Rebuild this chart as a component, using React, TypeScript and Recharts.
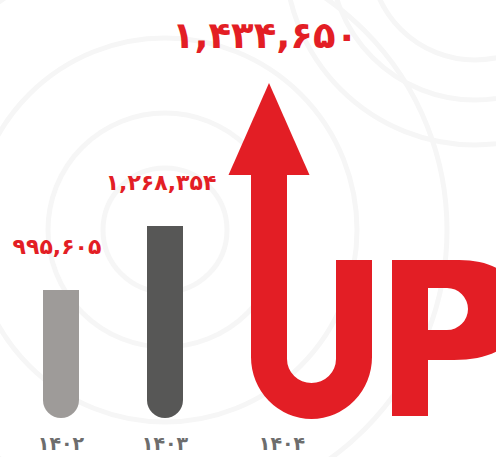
import React from 'react';
import { BarChart, Bar, XAxis, YAxis, LabelList, Cell } from 'recharts';

const years = ['۱۴۰۲', '۱۴۰۳', '۱۴۰۴'];
const values = [995605, 1268354, 1434650];
const valueLabels = ['۹۹۵,۶۰۵', '۱,۲۶۸,۳۵۴', '۱,۴۳۴,۶۵۰'];
const barColors = ['#9e9b99', '#575756', '#e31e25'];

const data = years.map((y, i) => ({ year: y, value: values[i], label: valueLabels[i] }));

const RED = '#e31e25';
const FONT = '"DejaVu Sans", sans-serif';

// rounded-bottom tube for the gray bars, U-arrow + P for the last one
const BarShape = (props: any) => {
  const { x, y, width, height, fill, index } = props;
  const base = y + height;
  if (index !== 2) {
    const r = width / 2;
    return (
      <path
        d={`M${x},${y} H${x + width} V${base - r} A${r} ${r} 0 0 1 ${x},${base - r} Z`}
        fill={fill}
      />
    );
  }
  const bx = x;
  const s = width / 36;
  const cx = bx + 18 * s;
  const headBase = y - 12 * s;
  const u = `M${bx},${headBase} H${bx + 36 * s} V${base - 59 * s}
    A${24.5 * s} ${24 * s} 0 0 0 ${bx + 85 * s},${base - 59 * s}
    V${base - 158 * s} H${bx + 121 * s} V${base - 61 * s}
    A${60.5 * s} ${62 * s} 0 0 1 ${bx},${base - 61 * s} Z`;
  const head = `M${cx - 40.5 * s},${headBase} L${cx},${y - 104 * s} L${cx + 40.5 * s},${headBase} Z`;
  const p = `M${bx + 141 * s},${base - 158 * s} H${bx + 208 * s}
    C${bx + 248 * s},${base - 158 * s} ${bx + 270 * s},${base - 138 * s} ${bx + 270 * s},${base - 108 * s}
    C${bx + 270 * s},${base - 75 * s} ${bx + 245 * s},${base - 58 * s} ${bx + 203 * s},${base - 58 * s}
    H${bx + 177 * s} V${base - 2 * s} H${bx + 141 * s} Z
    M${bx + 177 * s},${base - 130 * s} H${bx + 196 * s}
    A${21 * s} ${21 * s} 0 0 1 ${bx + 196 * s},${base - 88 * s} H${bx + 177 * s} Z`;
  return (
    <g fill={fill}>
      <path d={u} />
      <path d={head} />
      <path d={p} fillRule="evenodd" />
    </g>
  );
};

const ValueLabel = (props: any) => {
  const { x, y, width, index, value } = props;
  const big = index === 2;
  return (
    <text
      x={x + width / 2 - 4}
      y={big ? y - 139 : y - 36}
      textAnchor="middle"
      fill={RED}
      fontFamily={FONT}
      fontWeight="bold"
      fontSize={big ? 37 : 22}
      letterSpacing={big ? -2.5 : -1.5}
    >
      {value}
    </text>
  );
};

const YearTick = (props: any) => {
  const { x, y, payload, index } = props;
  return (
    <text
      x={x + (index === 2 ? 13 : 0)}
      y={y + 24}
      textAnchor="middle"
      fill="#6d6d6d"
      fontFamily={FONT}
      fontWeight="bold"
      fontSize={19}
    >
      {payload.value}
    </text>
  );
};

const Backdrop = () => (
  <svg width={496} height={457} style={{ position: 'absolute', left: 0, top: 0 }}>
    <g fill="none" stroke="#f6f6f6" strokeWidth={5}>
      {[62, 117, 192, 282].map(r => (
        <circle key={'a' + r} cx={165} cy={230} r={r} />
      ))}
      {[105, 145, 190].map(r => (
        <circle key={'b' + r} cx={475} cy={-45} r={r} />
      ))}
    </g>
  </svg>
);

export default function App() {
  return (
    <div style={{ position: 'fixed', left: 0, top: 0, width: 496, height: 457, background: '#fff' }}>
      <Backdrop />
      <div style={{ position: 'absolute', left: 0, top: 0 }}>
        <BarChart
          width={496}
          height={457}
          data={data}
          margin={{ top: 187, right: 175, left: 9, bottom: 0 }}
          barSize={36}
        >
          <XAxis
            dataKey="year"
            axisLine={false}
            tickLine={false}
            height={39}
            tick={<YearTick />}
            interval={0}
          />
          <YAxis hide domain={[450000, 'dataMax']} />
          <Bar dataKey="value" shape={<BarShape />} isAnimationActive={false}>
            {data.map((d, i) => (
              <Cell key={d.year} fill={barColors[i]} />
            ))}
            <LabelList dataKey="label" content={<ValueLabel />} />
          </Bar>
        </BarChart>
      </div>
    </div>
  );
}
